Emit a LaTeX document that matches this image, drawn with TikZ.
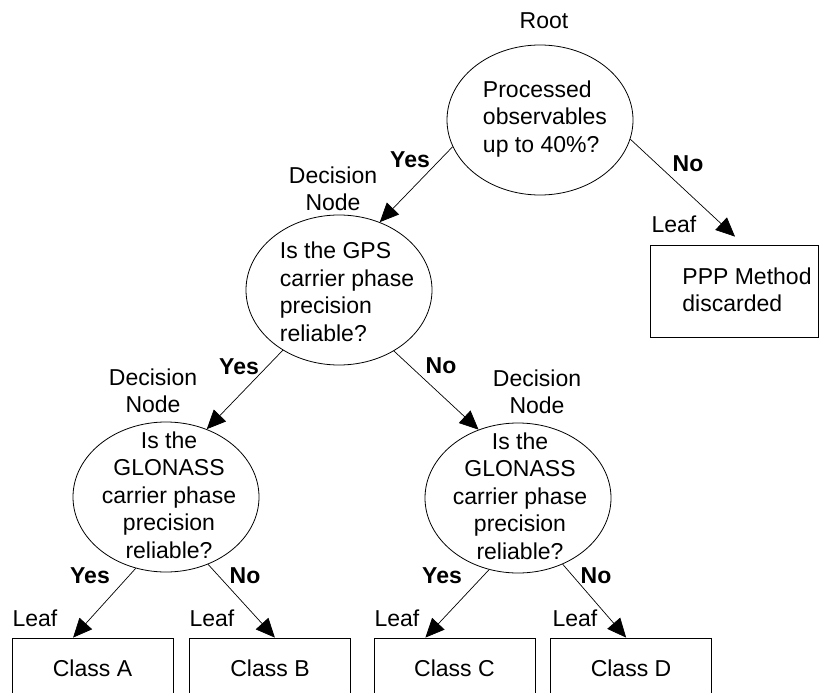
\documentclass[tikz,border=0pt]{standalone}
\usepackage{fontspec}
\setmainfont{Liberation Sans}
\usetikzlibrary{arrows.meta,calc,shapes.geometric}
\begin{document}
\begin{tikzpicture}[x=1pt,y=-1pt,
  every node/.style={font=\fontsize{23}{27.5}\selectfont, inner sep=0pt},
  dnode/.style={draw, ellipse, line width=0.8pt, minimum width=186pt, minimum height=150pt},
  leafbox/.style={draw, rectangle, line width=0.8pt, minimum width=161pt, minimum height=60pt},
  qtext/.style={align=left},
  ctext/.style={align=center},
  lbl/.style={align=center},
  ans/.style={font=\fontsize{23}{27.5}\selectfont\bfseries},
  conn/.style={line width=0.7pt, -{Triangle[length=19pt,width=17pt]}}
]
\useasboundingbox (0,0) rectangle (819,693);
% decision ellipses
\node[dnode] (root) at (540,120) {};
\node[dnode] (gps) at (339,290) {};
\node[dnode] (gll) at (166,497) {};
\node[dnode] (glr) at (518,498) {};
% texts in ellipses
\node[qtext] (roottxt) at (545,119) {Processed\\observables\\up to 40\%?};
\node[qtext] (gpstxt) at (347,292) {Is the GPS\\carrier phase\\precision\\reliable?};
\node[ctext] (glltxt) at (169,495) {Is the\\GLONASS\\carrier phase\\precision\\reliable?};
\node[ctext] (glrtxt) at (520,496) {Is the\\GLONASS\\carrier phase\\precision\\reliable?};
% leaf boxes
\node[draw, rectangle, line width=0.8pt, minimum width=168pt, minimum height=92pt] (ppp) at (734,291) {};
\node[qtext] (ppptxt) at (747,290) {PPP Method\\discarded};
\node[leafbox] (ca) at (92.5,668) {Class A};
\node[leafbox] (cb) at (270,668) {Class B};
\node[leafbox] (cc) at (454.5,668) {Class C};
\node[leafbox] (cd) at (631,668) {Class D};
% role labels
\node[lbl] (lroot) at (544,21) {Root};
\node[lbl] (lgps) at (333,189) {Decision\\Node};
\node[lbl] (lgll) at (153,391) {Decision\\Node};
\node[lbl] (lglr) at (537,392) {Decision\\Node};
\node[lbl] (lppp) at (674,224) {Leaf};
\node[lbl] (lca) at (35,618) {Leaf};
\node[lbl] (lcb) at (212,618) {Leaf};
\node[lbl] (lcc) at (397,618) {Leaf};
\node[lbl] (lcd) at (575,618) {Leaf};
% answer labels
\node[ans] (y1) at (410,160) {Yes};
\node[ans] (n1) at (688,164) {No};
\node[ans] (y2) at (239,367) {Yes};
\node[ans] (n2) at (441,366) {No};
\node[ans] (y3) at (90,576) {Yes};
\node[ans] (n3) at (245,576) {No};
\node[ans] (y4) at (442,576) {Yes};
\node[ans] (n4) at (596,576) {No};
% connectors
\draw[conn] (root.197) -- (gps.59);
\draw[conn] (root.348) -- ($(ppp.north)+(1,-8)$);
\draw[conn] (gps.227) -- (gll.59);
\draw[conn] (gps.312) -- (glr.120);
\draw[conn] (gll.247) -- ($(ca.north west)!0.38!(ca.north east)$);
\draw[conn] (gll.302) -- ($(cb.north west)!0.53!(cb.north east)$);
\draw[conn] (glr.248) -- ($(cc.north west)!0.32!(cc.north east)$);
\draw[conn] (glr.304) -- ($(cd.north west)!0.47!(cd.north east)$);
\end{tikzpicture}
\end{document}
